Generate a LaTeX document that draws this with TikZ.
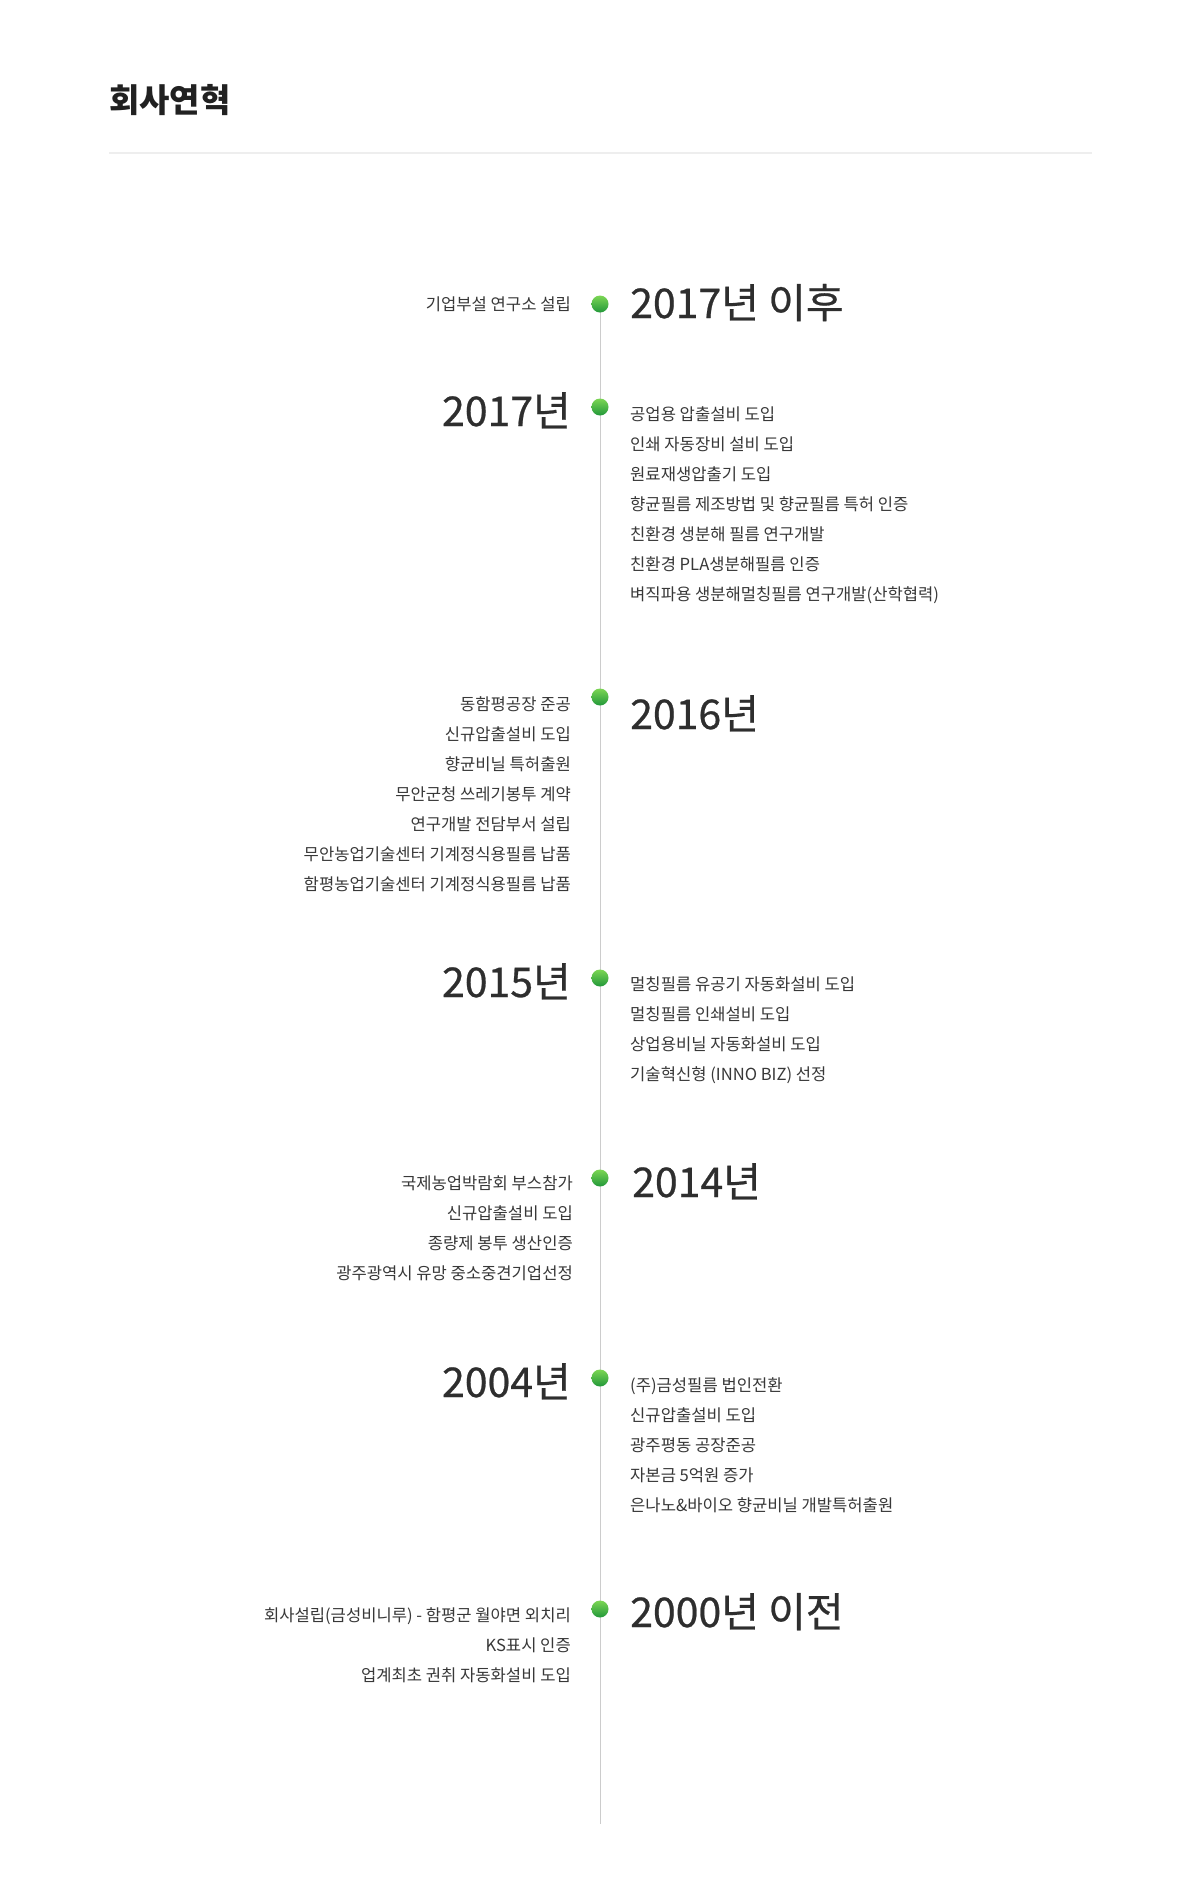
\documentclass[tikz,border=0pt]{standalone}
\usepackage{fontspec}
\setmainfont{Noto Sans CJK KR}
\newfontfamily\yearfont{Noto Sans CJK KR}[FakeBold=0.6]
\usetikzlibrary{positioning}

\definecolor{dotlight}{HTML}{7CD654}
\definecolor{dotdark}{HTML}{22983A}
\definecolor{linegray}{HTML}{CCCCCC}
\definecolor{rulegray}{HTML}{EEEEEE}
\definecolor{itemgray}{HTML}{383838}
\definecolor{yeargray}{HTML}{2E2E2E}

\tikzset{
  dot/.style={circle, inner sep=0pt, minimum size=17pt, draw=none,
    top color=dotlight, bottom color=dotdark},
  item/.style={inner sep=0pt, text=itemgray, font=\fontsize{16.6}{20}\selectfont},
  yeartext/.style={inner sep=0pt, text=yeargray, font=\yearfont\fontsize{41}{48}\selectfont},
}

\begin{document}
\begin{tikzpicture}[x=1pt,y=-1pt]
    \useasboundingbox[fill=white] (0,0) rectangle (1200,1904);

    % title and rule under it
    \node[inner sep=0pt, anchor=base west, text=black!87,
      font=\fontsize{33}{38}\selectfont\bfseries] (Title) at (109,112) {회사연혁};
    \coordinate (RuleL) at (109,153);
    \coordinate (RuleR) at (1092,153);
    \draw[rulegray, line width=2pt] (RuleL) -- (RuleR);

    % the dots on the time line
    \coordinate (d1) at (600,304);
    \coordinate (d2) at (600,407);
    \coordinate (d3) at (600,697);
    \coordinate (d4) at (600,978);
    \coordinate (d5) at (600,1178);
    \coordinate (d6) at (600,1378);
    \coordinate (d7) at (600,1609);
    \coordinate (LineEnd) at (600,1824);
    \draw[linegray, line width=1pt] (d1) -- (LineEnd);
    \foreach \i in {1,...,7}{
      \node[dot] (dot\i) at (d\i) {};
    }

    % 2017 and after
    \node[yeartext, anchor=base west] (y1) at (630,318) {2017년 이후};
    \node[item, anchor=base east] (l1-0) at (571,310) {기업부설 연구소 설립};

    % 2017
    \node[yeartext, anchor=base east] (y2) at (571,426) {2017년};
    \foreach \txt [count=\i from 0] in {공업용 압출설비 도입, 인쇄 자동장비 설비 도입,
        원료재생압출기 도입, 향균필름 제조방법 및 향균필름 특허 인증,
        친환경 생분해 필름 연구개발, 친환경 PLA생분해필름 인증,
        벼직파용 생분해멀칭필름 연구개발(산학협력)}{
      \node[item, anchor=base west] (r2-\i) at (630,{420+30*\i}) {\txt};
    }

    % 2016
    \node[yeartext, anchor=base west] (y3) at (630,729) {2016년};
    \foreach \txt [count=\i from 0] in {동함평공장 준공, 신규압출설비 도입,
        향균비닐 특허출원, 무안군청 쓰레기봉투 계약, 연구개발 전담부서 설립,
        무안농업기술센터 기계정식용필름 납품, 함평농업기술센터 기계정식용필름 납품}{
      \node[item, anchor=base east] (l3-\i) at (571,{710+30*\i}) {\txt};
    }

    % 2015
    \node[yeartext, anchor=base east] (y4) at (571,997) {2015년};
    \foreach \txt [count=\i from 0] in {멀칭필름 유공기 자동화설비 도입,
        멀칭필름 인쇄설비 도입, 상업용비닐 자동화설비 도입, 기술혁신형 (INNO BIZ) 선정}{
      \node[item, anchor=base west] (r4-\i) at (630,{990+30*\i}) {\txt};
    }

    % 2014
    \node[yeartext, anchor=base west] (y5) at (632,1197) {2014년};
    \foreach \txt [count=\i from 0] in {국제농업박람회 부스참가, 신규압출설비 도입,
        종량제 봉투 생산인증, 광주광역시 유망 중소중견기업선정}{
      \node[item, anchor=base east] (l5-\i) at (573,{1189+30*\i}) {\txt};
    }

    % 2004
    \node[yeartext, anchor=base east] (y6) at (571,1397) {2004년};
    \foreach \txt [count=\i from 0] in {(주)금성필름 법인전환, 신규압출설비 도입,
        광주평동 공장준공, 자본금 5억원 증가, 은나노\&바이오 향균비닐 개발특허출원}{
      \node[item, anchor=base west] (r6-\i) at (630,{1391+30*\i}) {\txt};
    }

    % 2000 and before
    \node[yeartext, anchor=base west] (y7) at (630,1627) {2000년 이전};
    \foreach \txt [count=\i from 0] in {회사설립(금성비니루) - 함평군 월야면 외치리,
        KS표시 인증, 업계최초 권취 자동화설비 도입}{
      \node[item, anchor=base east] (l7-\i) at (571,{1621+30*\i}) {\txt};
    }
\end{tikzpicture}
\end{document}
